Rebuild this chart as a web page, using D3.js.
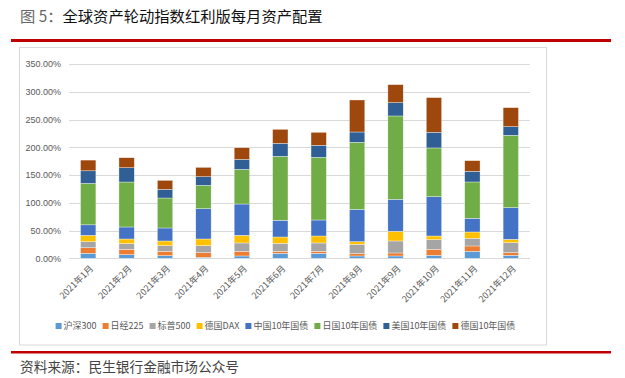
<!DOCTYPE html>
<html><head><meta charset="utf-8">
<script src="https://cdn.jsdelivr.net/npm/d3@7"></script>
<style>
html,body{margin:0;padding:0;background:#fff;}
svg{display:block;font-family:"Liberation Sans","Noto Sans CJK SC",sans-serif;}
</style></head>
<body><svg id="c" width="625" height="378"></svg>
<script>
const months = ["2021年1月","2021年2月","2021年3月","2021年4月","2021年5月","2021年6月","2021年7月","2021年8月","2021年9月","2021年10月","2021年11月","2021年12月"];
const seriesNames = ["沪深300","日经225","标普500","德国DAX","中国10年国债","日国10年国债","美国10年国债","德国10年国债"];
const seriesColors = ["#5B9BD5","#ED7D31","#A5A5A5","#FFC000","#4472C4","#70AD47","#2F5F94","#9E480E"];
const hs300  = [9, 6.6, 4.8, 1.8, 4.2, 9, 9, 4.2, 4.2, 5.4, 12.6, 5.4];
const nikkei = [10, 9.6, 7.8, 8.4, 8.4, 3.6, 3.6, 4.2, 5.4, 10.8, 9.6, 4.8];
const sp500  = [10.8, 10.2, 10.2, 12.6, 15, 14.4, 15, 16.8, 21.6, 17.4, 13.8, 18];
const dax    = [11.5, 8.4, 8.4, 12, 13.8, 11.4, 12.6, 4.8, 17.4, 6.6, 11.4, 6];
const cn10   = [19, 21.6, 23.4, 54.6, 56.4, 30, 28.8, 58.2, 57.7, 70.9, 24.6, 57.1];
const jp10   = [74.6, 81, 54, 42, 62.4, 115.3, 112.9, 120.7, 150.1, 87.7, 65.5, 130.3];
const us10   = [22.7, 25.8, 15.6, 15.6, 18, 23.4, 21.6, 18.6, 24, 28.2, 19.2, 15.6];
const de10   = [19.3, 18, 16.2, 16.8, 21, 25.2, 23.4, 57.7, 32.4, 62.5, 19.2, 34.2];
const yTicks = [0, 50, 100, 150, 200, 250, 300, 350];

const seriesValues = [hs300, nikkei, sp500, dax, cn10, jp10, us10, de10];
const rows = months.map((m, i) => {
  const r = {month: m};
  seriesNames.forEach((s, k) => r[s] = seriesValues[k][i]);
  return r;
});

const svg = d3.select("#c");

// title
const title = svg.append("text").attr("x", 20).attr("y", 21.5).attr("font-size", 15.3)
  .attr("font-family", "Noto Sans CJK SC, sans-serif");
title.append("tspan").attr("fill", "#666").text("图 5：");
title.append("tspan").attr("fill", "#111").text("全球资产轮动指数红利版每月资产配置");

svg.append("rect").attr("x", 11).attr("y", 39).attr("width", 600).attr("height", 3).attr("fill", "#C00000");
svg.append("rect").attr("x", 11).attr("y", 351).attr("width", 600).attr("height", 2.5).attr("fill", "#C00000");
svg.append("text").attr("x", 20).attr("y", 371.5).attr("font-size", 13.7).attr("fill", "#444")
  .attr("font-family", "Noto Sans CJK SC, sans-serif").text("资料来源：民生银行金融市场公众号");

// chart box
svg.append("rect").attr("x", 19.5).attr("y", 47.5).attr("width", 527).attr("height", 297.5)
  .attr("fill", "#fff").attr("stroke", "#D9D9D9").attr("stroke-width", 1);

const x = d3.scaleBand().domain(months).range([69, 530]).paddingInner(0.6).paddingOuter(0.3);
const y = d3.scaleLinear().domain([0, 350]).range([258.3, 64]);

// grid
svg.append("g").selectAll("line").data(yTicks).join("line")
  .attr("x1", 69).attr("x2", 530)
  .attr("y1", d => Math.round(y(d)) + 0.5).attr("y2", d => Math.round(y(d)) + 0.5)
  .attr("stroke", "#D9D9D9").attr("stroke-width", 1);

// y axis labels
const yAxis = d3.axisLeft(y).tickValues(yTicks).tickSize(0).tickPadding(0)
  .tickFormat(d => d3.format(".2%")(d / 100));
const gy = svg.append("g").attr("transform", "translate(61,0)").call(yAxis);
gy.select(".domain").remove();
gy.selectAll("text").attr("fill", "#595959").attr("font-size", 9)
  .attr("font-family", "Liberation Sans, sans-serif");

// bars
const stack = d3.stack().keys(seriesNames)(rows);
svg.append("g").selectAll("g").data(stack).join("g")
  .attr("fill", (d, i) => seriesColors[i])
  .selectAll("rect").data(d => d).join("rect")
  .attr("x", d => x(d.data.month))
  .attr("width", x.bandwidth())
  .attr("y", d => y(d[1]))
  .attr("height", d => y(d[0]) - y(d[1]))
  .attr("stroke", "#fff").attr("stroke-width", 0.5).attr("stroke-opacity", 0.7);

// x axis labels
const xAxis = d3.axisBottom(x).tickSize(0).tickPadding(0);
const gx = svg.append("g").attr("transform", "translate(0,258.3)").call(xAxis);
gx.select(".domain").remove();
gx.selectAll("text")
  .attr("fill", "#595959").attr("font-size", 9)
  .attr("font-family", "Noto Sans CJK SC, sans-serif")
  .attr("text-anchor", "end")
  .attr("dy", null).attr("y", null)
  .attr("transform", "translate(4,9) rotate(-45)")
  .attr("dominant-baseline", "middle");

// legend
const leg = svg.append("g");
const items = leg.selectAll("g").data(seriesNames).join("g");
items.append("rect").attr("width", 6).attr("height", 6).attr("y", -3)
  .attr("fill", (d, i) => seriesColors[i]);
items.append("text").attr("x", 8).attr("dy", "0.35em").attr("font-size", 9)
  .attr("fill", "#595959").attr("font-family", "Noto Sans CJK SC, sans-serif").text(d => d);
let cx = 0;
const gap = 6;
items.each(function () {
  const w = 8 + d3.select(this).select("text").node().getComputedTextLength();
  d3.select(this).attr("transform", `translate(${cx},0)`);
  cx += w + gap;
});
const total = cx - gap;
leg.attr("transform", `translate(${285.5 - total / 2},326)`);
</script></body></html>
